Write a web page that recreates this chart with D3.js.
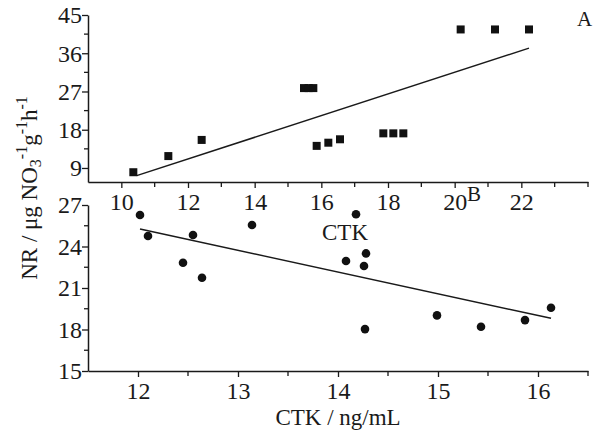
<!DOCTYPE html>
<html><head><meta charset="utf-8">
<script src="https://cdn.jsdelivr.net/npm/d3@7"></script>
<style>body{margin:0;background:#fff}svg{display:block}text{font-family:"Liberation Serif","DejaVu Serif",serif;fill:#1a1a1a}</style>
</head><body><svg id="c" width="597" height="434"></svg>
<script>
// Panel A (squares)
const aX = [10.36, 11.41, 12.41, 15.48, 15.62, 15.76, 15.86, 16.21, 16.56, 17.86, 18.16, 18.46, 20.18, 21.21, 22.23];
const aY = [8.0, 11.8, 15.6, 27.8, 27.8, 27.8, 14.2, 14.95, 15.75, 17.15, 17.15, 17.15, 41.6, 41.6, 41.6];
const aFitX = [10.46, 22.23];
const aFitY = [7.2, 37.2];
const aXTicks = [10, 12, 14, 16, 18, 20, 22];
const aYTicks = [9, 18, 27, 36, 45];
// Panel B (circles)
const bX = [12.02, 12.10, 12.45, 12.55, 12.64, 13.14, 14.18, 14.08, 14.28, 14.26, 14.27, 14.99, 15.43, 15.87, 16.13];
const bY = [26.28, 24.76, 22.83, 24.83, 21.74, 25.55, 26.33, 22.95, 23.5, 22.59, 18.03, 19.02, 18.2, 18.68, 19.57];
const bFitX = [12.02, 16.13];
const bFitY = [25.26, 18.81];
const bXTicks = [12, 13, 14, 15, 16];
const bYTicks = [15, 18, 21, 24, 27];

const svg = d3.select("#c");
const ink = "#1a1a1a";
const L = 88, R = 588;

// scales
const xA = d3.scaleLinear().domain([9, 24]).range([L, R]);
const yA = d3.scaleLinear().domain([5.7, 45]).range([182, 15]);
const xB = d3.scaleLinear().domain([11.5, 16.5]).range([L, R]);
const yB = d3.scaleLinear().domain([15, 27]).range([371, 205]);

function styleAxis(g){
  g.selectAll("path.domain").attr("stroke", ink).attr("stroke-width", 1.5);
  g.selectAll(".tick line").attr("stroke", ink).attr("stroke-width", 1.3);
  g.selectAll("text").attr("font-size", 24).attr("fill", ink).style("font-family", '"Liberation Serif",serif');
}

function minor(g, vals, scale, orient, len){
  vals.forEach(v=>{
    const p = scale(v);
    if(orient==="bottom") g.append("line").attr("x1",p).attr("x2",p).attr("y1",0).attr("y2",len).attr("stroke",ink).attr("stroke-width",1.3);
    else g.append("line").attr("y1",p).attr("y2",p).attr("x1",0).attr("x2",-len).attr("stroke",ink).attr("stroke-width",1.3);
  });
}

// Panel A axes
const gAx = svg.append("g").attr("transform",`translate(0,182)`)
  .call(d3.axisBottom(xA).tickValues(aXTicks).tickSize(6).tickSizeOuter(0).tickFormat(d3.format("d")));
styleAxis(gAx);
gAx.selectAll("text").attr("y",9).attr("dy","0.8em");
minor(gAx, [11,13,15,17,19,21,23,24], xA, "bottom", 5);

const gAy = svg.append("g").attr("transform",`translate(${L},0)`)
  .call(d3.axisLeft(yA).tickValues(aYTicks).tickSize(6).tickSizeOuter(0).tickFormat(d3.format("d")));
styleAxis(gAy);
gAy.selectAll("text").attr("x",-6).attr("dy","0.33em");
minor(gAy, [13.5,22.5,31.5,40.5], yA, "left", 4);

// Panel B axes
const gBx = svg.append("g").attr("transform",`translate(0,371)`)
  .call(d3.axisBottom(xB).tickValues(bXTicks).tickSize(6).tickSizeOuter(0).tickFormat(d3.format("d")));
styleAxis(gBx);
gBx.selectAll("text").attr("y",9).attr("dy","0.8em");
minor(gBx, [12.5,13.5,14.5,15.5,16.5], xB, "bottom", 5);

const gBy = svg.append("g").attr("transform",`translate(${L},0)`)
  .call(d3.axisLeft(yB).tickValues(bYTicks).tickSize(6).tickSizeOuter(0).tickFormat(d3.format("d")));
styleAxis(gBy);
gBy.selectAll("text").attr("x",-6).attr("dy","0.33em");
minor(gBy, [16.5,19.5,22.5,25.5], yB, "left", 4);

// Panel A marks
const line = (xs, ys, sx, sy) => d3.line()(xs.map((x,i)=>[sx(x), sy(ys[i])]));
svg.append("path").attr("d", line(aFitX, aFitY, xA, yA)).attr("stroke", ink).attr("stroke-width",1.5).attr("fill","none");
svg.append("g").selectAll("rect").data(aX.map((x,i)=>[x,aY[i]])).join("rect")
  .attr("x",d=>xA(d[0])-4).attr("y",d=>yA(d[1])-4).attr("width",8).attr("height",8).attr("fill","#111");

// Panel B marks
svg.append("path").attr("d", line(bFitX, bFitY, xB, yB)).attr("stroke", ink).attr("stroke-width",1.5).attr("fill","none");
svg.append("g").selectAll("circle").data(bX.map((x,i)=>[x,bY[i]])).join("circle")
  .attr("cx",d=>xB(d[0])).attr("cy",d=>yB(d[1])).attr("r",4.3).attr("fill","#111");

// Labels
svg.append("text").attr("x",577).attr("y",26).attr("font-size",21).text("A");
svg.append("text").attr("x",467).attr("y",201).attr("font-size",21).text("B");
svg.append("text").attr("x",345).attr("y",240).attr("font-size",23).attr("text-anchor","middle").text("CTK");
svg.append("text").attr("x",338).attr("y",425).attr("font-size",23).attr("text-anchor","middle").text("CTK / ng/mL");

// Y title with sub/superscripts
const yt = svg.append("text").attr("transform","translate(37,188) rotate(-90)").attr("font-size",23).attr("text-anchor","middle");
yt.append("tspan").text("NR / μg NO");
yt.append("tspan").attr("font-size",16).attr("dy",4).text("3");
yt.append("tspan").attr("font-size",16).attr("dy",-14).text("-1");
yt.append("tspan").attr("dy",10).text("g");
yt.append("tspan").attr("font-size",16).attr("dy",-10).text("-1");
yt.append("tspan").attr("dy",10).text("h");
yt.append("tspan").attr("font-size",16).attr("dy",-10).text("-1");
</script></body></html>
